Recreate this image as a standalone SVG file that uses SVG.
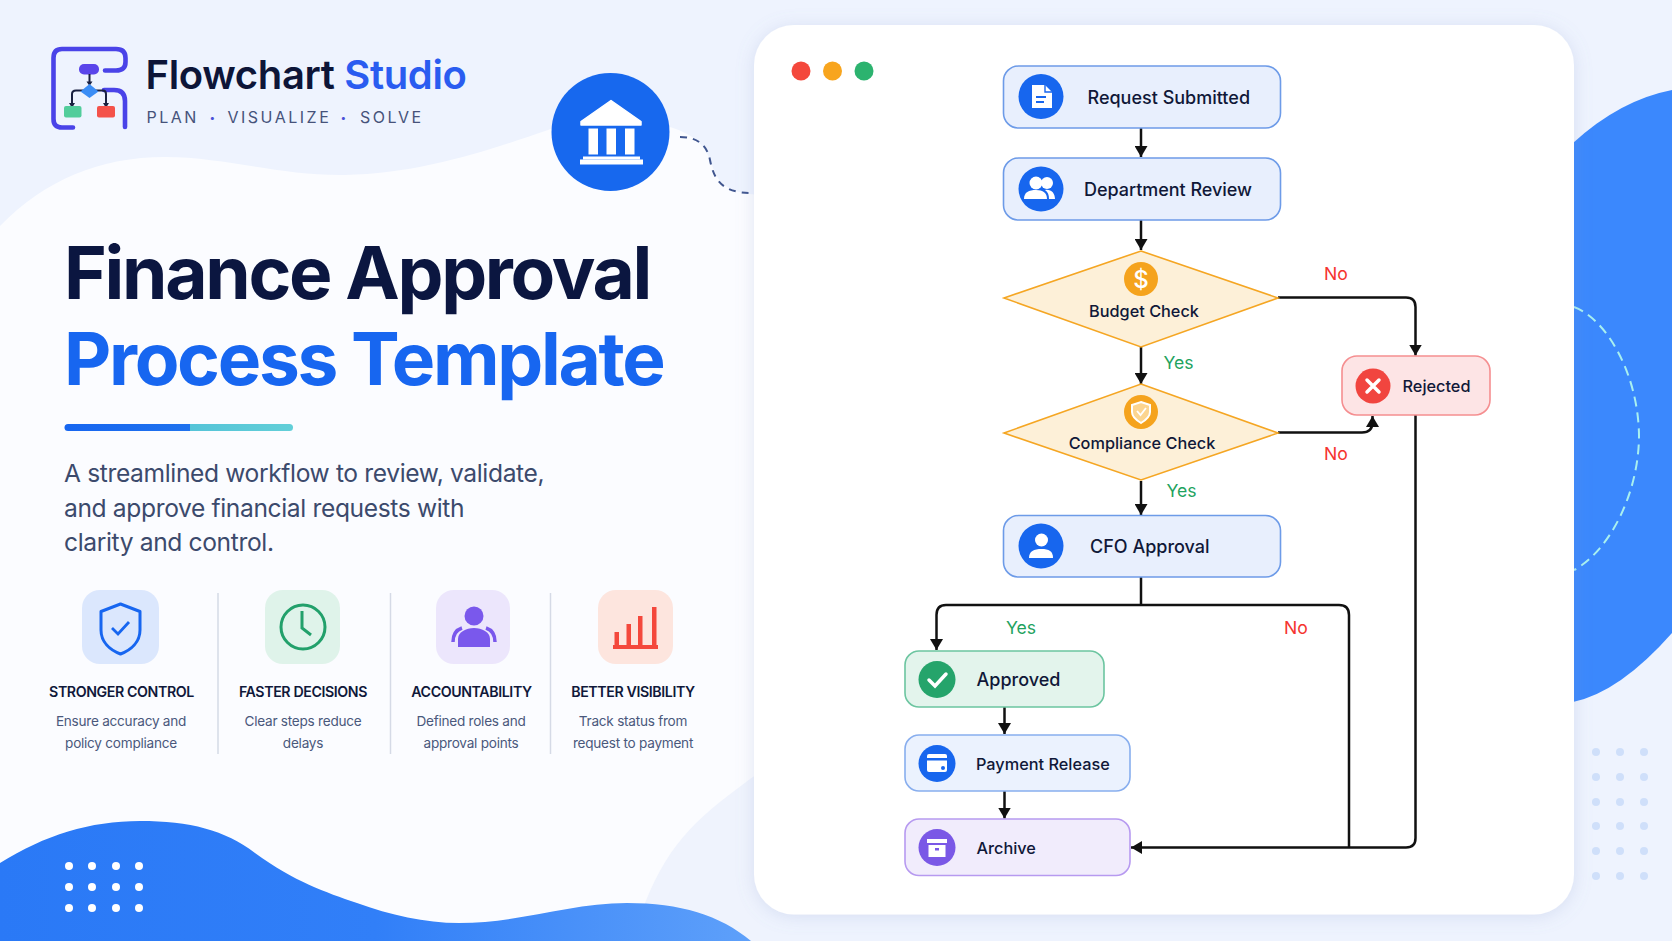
<svg xmlns="http://www.w3.org/2000/svg" width="1672" height="941" viewBox="0 0 1672 941">
<style>
text{font-family:Inter,"Noto Sans","Liberation Sans",sans-serif;fill:#111a3a}
.n{font-size:18px;font-weight:500;fill:#101838}
.d{font-size:16.3px;font-weight:500;fill:#101838}
.yes{font-size:17.6px;fill:#1fa35f}
.no{font-size:17.6px;fill:#f5332e}
.h{font-size:14.2px;font-weight:600;letter-spacing:-.4px;text-anchor:middle;fill:#10183a}
.p{font-size:13.6px;letter-spacing:-.25px;text-anchor:middle;fill:#4a587c}
.sub{font-size:24.6px;letter-spacing:-.37px;fill:#3c4a6c}
.c{fill:none;stroke:#111;stroke-width:2.5}
.blue{fill:#e8effd;stroke:#6d9be8;stroke-width:1.6}
.dia{fill:#fdf0d8;stroke:#f5a623;stroke-width:1.6}
.w{fill:#fff}
.dd{fill:#cfdffa}
.wd{fill:#fff}
</style>
<defs>
<marker id="a" markerWidth="12" markerHeight="13" refX="11" refY="6.500" orient="auto" markerUnits="userSpaceOnUse"><path d="M0 0L11 6.500L0 13Z" fill="#111"/></marker>
<linearGradient id="wave" x1="0" x2="1" y1="0" y2="0"><stop offset="0" stop-color="#2a79f6"/><stop offset=".5" stop-color="#317ff8"/><stop offset="1" stop-color="#5ea0fa"/></linearGradient>
<linearGradient id="bar" x1="0" x2="1" y1="0" y2="0"><stop offset="0" stop-color="#1766f0"/><stop offset=".55" stop-color="#1f72ee"/><stop offset=".55" stop-color="#55c4d8"/><stop offset="1" stop-color="#62cfd8"/></linearGradient>
<filter id="sh" x="-5%" y="-5%" width="110%" height="110%"><feDropShadow dx="0" dy="2" stdDeviation="9" flood-color="#7f93c8" flood-opacity=".22"/></filter>
</defs>

<g id="background">
<rect width="1672" height="941" fill="#eef3fe"/>
<path d="M0 226C45 180 100 157 165 157C225 157 280 176 345 175C420 174 490 150 548 130C590 110 640 115 670 127C695 135 705 145 712 165C718 185 730 193 760 195V941H0Z" fill="#fbfcff"/>
<path d="M645 903C670 840 700 815 760 772V941H645Z" fill="#eff3fd"/>
<path d="M0 863C45 835 90 821 140 821C190 821 225 830 255 853C295 882 325 892 357 903C390 915 425 923 459 923C520 923 570 903 627 903C680 903 720 915 751 941H0Z" fill="url(#wave)"/>
<path d="M1573 143Q1620 100 1672 90V633Q1620 692 1573 702Z" fill="#3b88fd"/>
<g class="wd"><circle cx="69" cy="866" r="4"/><circle cx="92" cy="866" r="4"/><circle cx="116" cy="866" r="4"/><circle cx="139" cy="866" r="4"/><circle cx="69" cy="887" r="4"/><circle cx="92" cy="887" r="4"/><circle cx="116" cy="887" r="4"/><circle cx="139" cy="887" r="4"/><circle cx="69" cy="908" r="4"/><circle cx="92" cy="908" r="4"/><circle cx="116" cy="908" r="4"/><circle cx="139" cy="908" r="4"/></g>
<g class="dd"><circle cx="1596" cy="752" r="4"/><circle cx="1620" cy="752" r="4"/><circle cx="1644" cy="752" r="4"/><circle cx="1596" cy="777" r="4"/><circle cx="1620" cy="777" r="4"/><circle cx="1644" cy="777" r="4"/><circle cx="1596" cy="802" r="4"/><circle cx="1620" cy="802" r="4"/><circle cx="1644" cy="802" r="4"/><circle cx="1596" cy="826" r="4"/><circle cx="1620" cy="826" r="4"/><circle cx="1644" cy="826" r="4"/><circle cx="1596" cy="851" r="4"/><circle cx="1620" cy="851" r="4"/><circle cx="1644" cy="851" r="4"/><circle cx="1596" cy="876" r="4"/><circle cx="1620" cy="876" r="4"/><circle cx="1644" cy="876" r="4"/></g>
<path d="M1574 307C1605 318 1638 372 1639 435C1639 495 1608 552 1574 570" fill="none" stroke="#a9f0ef" stroke-width="2" stroke-dasharray="10 6"/>
<path d="M680 137C702 137 708 150 710 160C714 180 722 193 752 193" fill="none" stroke="#40568f" stroke-width="2" stroke-dasharray="7 6"/>
</g>

<g id="logo">
<path d="M73 127.500H62Q53.500 127.500 53.500 119V58Q53.500 49 62 49H116Q125.500 49 125.500 58V62Q125.500 70.500 116 70.500H105M104 90H114Q125 90 125 101V127" fill="none" stroke="#4a43e8" stroke-width="4.600" stroke-linecap="round"/>
<rect x="79" y="64" width="20" height="10.500" rx="5" fill="#5a45ea"/>
<path d="M89.500 74V84M72 105V94Q72 90.500 76 90.500H103Q106 90.500 106 94V105" fill="none" stroke="#1a2140" stroke-width="2"/>
<path d="M86.500 81.500H92.500L89.500 86ZM69 103H75L72 108ZM103 103H109L106 108Z" fill="#1a2140"/>
<path d="M89.500 84L98.500 91.500L89.500 98L80.500 91.500Z" fill="#3b8df5"/>
<rect x="64" y="106" width="17.500" height="11.500" rx="2" fill="#52cd9b"/>
<rect x="97" y="106" width="18" height="11.500" rx="2" fill="#f4524a"/>
<text x="145.500" y="88.500" font-size="40" font-weight="600" letter-spacing="-.35" style="fill:#0d1538">Flowchart <tspan style="fill:#2a5cf0">Studio</tspan></text>
<text x="146.500" y="122.500" font-size="16" letter-spacing="2.500" style="fill:#46527a">PLAN<tspan x="209.500" font-size="10" dy="-2" style="fill:#4a50d8">•</tspan><tspan x="227.500" dy="2">VISUALIZE</tspan><tspan x="340.500" font-size="10" dy="-2" style="fill:#4a50d8">•</tspan><tspan x="360" dy="2">SOLVE</tspan></text>
</g>

<g id="bank">
<circle cx="610.500" cy="132" r="59" fill="#1768ee"/>
<path class="w" d="M611 100.500L641 121.500V125H581V121.500Z" stroke="#fff" stroke-linejoin="round" stroke-width="1.500"/>
<rect class="w" x="588.500" y="128.500" width="9.500" height="26"/><rect class="w" x="606.500" y="128.500" width="9.500" height="26"/><rect class="w" x="625" y="128.500" width="9.500" height="26"/>
<rect class="w" x="583" y="156.500" width="57" height="3"/><rect class="w" x="580" y="159.500" width="63" height="5"/>
</g>

<g id="headline">
<text x="64" y="299" font-size="73" font-weight="700" letter-spacing="-2.300" style="fill:#0b1640">Finance Approval</text>
<text x="64" y="385" font-size="73" font-weight="700" letter-spacing="-2.300" style="fill:#1766f0">Process Template</text>
<rect x="64.500" y="424" width="228.500" height="7" rx="3.500" fill="url(#bar)"/>
<text class="sub" x="64" y="482">A streamlined workflow to review, validate,</text>
<text class="sub" x="64" y="516.500">and approve financial requests with</text>
<text class="sub" x="64" y="551">clarity and control.</text>
</g>

<g id="feature-control">
<rect x="82" y="590" width="77" height="74" rx="18" fill="#dbe7fd"/>
<path d="M120.500 604L140 611.500V630C140 642 131 650 120.500 654C110 650 101 642 101 630V611.500Z" fill="none" stroke="#1766f0" stroke-width="3" stroke-linejoin="round"/>
<path d="M112 628L118 634L129 622" fill="none" stroke="#1766f0" stroke-width="2.800"/>
<text class="h" x="121.500" y="696.500">STRONGER CONTROL</text>
<text class="p" x="121" y="725.500">Ensure accuracy and</text>
<text class="p" x="121" y="748">policy compliance</text>
</g>
<g id="feature-speed">
<rect x="265" y="590" width="75" height="74" rx="18" fill="#dff3ea"/>
<circle cx="303" cy="627" r="22" fill="none" stroke="#22a06b" stroke-width="3"/>
<path d="M302 611V628L311 635" fill="none" stroke="#22a06b" stroke-width="3"/>
<text class="h" x="303" y="696.500">FASTER DECISIONS</text>
<text class="p" x="303" y="725.500">Clear steps reduce</text>
<text class="p" x="303" y="748">delays</text>
</g>
<g id="feature-account">
<rect x="436" y="590" width="74" height="74" rx="18" fill="#ece6fc"/>
<ellipse cx="474" cy="616" rx="9.500" ry="9.500" fill="#7a58ec"/>
<path d="M458 647V639C458 632 466 628 474 628C482 628 490 632 490 639V647Z" fill="#7a58ec"/>
<path d="M453 642C453 635 456 630 462 628M495 642C495 635 492 630 486 628" fill="none" stroke="#7a58ec" stroke-width="3.500"/>
<text class="h" x="471.500" y="696.500">ACCOUNTABILITY</text>
<text class="p" x="471" y="725.500">Defined roles and</text>
<text class="p" x="471" y="748">approval points</text>
</g>
<g id="feature-visibility">
<rect x="598" y="590" width="75" height="74" rx="18" fill="#fde5de"/>
<g fill="#f4483c"><rect x="614.500" y="632" width="4.500" height="14"/><rect x="626.500" y="624" width="4.500" height="22"/><rect x="638" y="616" width="4.500" height="30"/><rect x="652" y="607" width="4.500" height="39"/><rect x="613" y="645" width="45" height="4"/></g>
<text class="h" x="633" y="696.500">BETTER VISIBILITY</text>
<text class="p" x="633" y="725.500">Track status from</text>
<text class="p" x="633" y="748">request to payment</text>
</g>
<g id="dividers" stroke="#d5dae6" stroke-width="1.500">
<path d="M218 593V754M390.500 593V754M550.500 593V754"/>
</g>

<g id="panel">
<rect x="754" y="25" width="820" height="889.500" rx="40" fill="#fff" filter="url(#sh)"/>
<circle cx="801" cy="71" r="9.500" fill="#f4483c"/><circle cx="832.500" cy="71" r="9.500" fill="#f8a51e"/><circle cx="864" cy="71" r="9.500" fill="#2cb36f"/>
</g>

<g id="connectors">
<path class="c" d="M1141 128V157" marker-end="url(#a)"/>
<path class="c" d="M1141 220V250" marker-end="url(#a)"/>
<path class="c" d="M1141 347V384" marker-end="url(#a)"/>
<path class="c" d="M1141 481V515" marker-end="url(#a)"/>
<path class="c" d="M1278 297.500H1406Q1415.500 297.500 1415.500 307V355.500" marker-end="url(#a)"/>
<path class="c" d="M1278 432.500H1362Q1372.500 432.500 1372.500 422V416" marker-end="url(#a)"/>
<path class="c" d="M1141 577V605"/>
<path class="c" d="M1141 605H946Q936.500 605 936.500 615V650" marker-end="url(#a)"/>
<path class="c" d="M1141 605H1339Q1349 605 1349 615V847.500"/>
<path class="c" d="M1004.500 707V734" marker-end="url(#a)"/>
<path class="c" d="M1004.500 791V818.500" marker-end="url(#a)"/>
<path class="c" d="M1415.500 415V838Q1415.500 847.500 1406 847.500H1131" marker-end="url(#a)"/>
</g>

<g id="labels">
<text class="no" x="1324" y="280">No</text>
<text class="yes" x="1163.500" y="368.500">Yes</text>
<text class="no" x="1324" y="459.500">No</text>
<text class="yes" x="1166.500" y="496.500">Yes</text>
<text class="yes" x="1006" y="634">Yes</text>
<text class="no" x="1284" y="634">No</text>
</g>

<g id="node-request">
<rect class="blue" x="1003.500" y="66" width="277" height="62" rx="15"/>
<circle cx="1041" cy="96.500" r="22.500" fill="#1766ee"/>
<path class="w" d="M1032 85H1045L1052 92V108H1032Z"/>
<path d="M1045 85V92H1052" fill="none" stroke="#1766ee" stroke-width="1.400"/>
<path d="M1036 97H1046M1036 102H1044" stroke="#1766ee" stroke-width="1.800"/>
<text class="n" x="1087.500" y="103.500">Request Submitted</text>
</g>
<g id="node-department">
<rect class="blue" x="1003.500" y="158" width="277" height="62" rx="15"/>
<circle cx="1041" cy="189" r="22.500" fill="#1766ee"/>
<circle class="w" cx="1036" cy="183" r="6.500"/><circle class="w" cx="1047" cy="183" r="6"/>
<path class="w" d="M1024 199C1024 192 1029 190 1036 190C1043 190 1047 193 1047 199Z"/>
<path class="w" d="M1045 190C1051 189 1055 193 1055 199H1049C1049 195 1048 192 1045 190Z"/>
<text class="n" x="1084" y="195.500" textLength="168">Department Review</text>
</g>
<g id="node-budget">
<path class="dia" d="M1141 251L1278 298L1141 347L1004 298Z"/>
<circle cx="1141" cy="279" r="17" fill="#f5a31d"/>
<text x="1141" y="287.500" font-size="24" font-weight="500" text-anchor="middle" style="fill:#fff">$</text>
<text class="d" x="1144" y="316.500" text-anchor="middle">Budget Check</text>
</g>
<g id="node-compliance">
<path class="dia" d="M1141 384L1278 433L1141 480L1004 433Z"/>
<circle cx="1141" cy="412" r="17" fill="#f5a31d"/>
<path d="M1141 402L1150 405V412C1150 417 1146 420 1141 423C1136 420 1132 417 1132 412V405Z" fill="#fcd590" stroke="#fff" stroke-width="2"/>
<path d="M1137 411L1140.500 415L1146 408" fill="none" stroke="#fff" stroke-width="1.800"/>
<text class="d" x="1142" y="449" text-anchor="middle">Compliance Check</text>
</g>
<g id="node-cfo">
<rect class="blue" x="1003.500" y="515.500" width="277" height="61.500" rx="15"/>
<circle cx="1041" cy="546" r="22.500" fill="#1766ee"/>
<circle class="w" cx="1041.500" cy="540" r="6.500"/>
<path class="w" d="M1029 558C1029 551 1034 549 1041.500 549C1049 549 1053 551 1053 558Z"/>
<text class="n" x="1090" y="552.500">CFO Approval</text>
</g>
<g id="node-rejected">
<rect x="1342" y="356" width="148" height="59" rx="15" fill="#fde4e5" stroke="#f58e90" stroke-width="1.600"/>
<circle cx="1373" cy="386" r="17.500" fill="#f1453f"/>
<path d="M1367 380L1379 392M1379 380L1367 392" stroke="#fff" stroke-width="3.500" stroke-linecap="round"/>
<text class="d" x="1402.500" y="391.500">Rejected</text>
</g>
<g id="node-approved">
<rect x="905" y="651" width="199" height="56" rx="14" fill="#e3f4ec" stroke="#6cc5a0" stroke-width="1.600"/>
<circle cx="937" cy="679.500" r="18.500" fill="#25a46b"/>
<path d="M929 680L935 686L946 674" fill="none" stroke="#fff" stroke-width="3.500" stroke-linecap="round"/>
<text class="n" x="976.500" y="686">Approved</text>
</g>
<g id="node-payment">
<rect x="905" y="735" width="225" height="56" rx="14" fill="#ebf2fe" stroke="#88aeee" stroke-width="1.600"/>
<circle cx="937" cy="763.500" r="18.500" fill="#1766ee"/>
<rect class="w" x="927" y="754" width="20" height="18" rx="2"/>
<rect x="927" y="758" width="20" height="2.500" fill="#1766ee"/>
<circle cx="943" cy="768" r="2" fill="#1766ee"/>
<text class="d" x="976" y="770">Payment Release</text>
</g>
<g id="node-archive">
<rect x="905" y="819" width="225" height="56.500" rx="14" fill="#f1ecfc" stroke="#b79af0" stroke-width="1.600"/>
<circle cx="937" cy="847.500" r="18.500" fill="#7a58e6"/>
<rect class="w" x="927" y="839" width="20" height="4"/>
<rect class="w" x="928.500" y="845" width="17" height="12"/>
<rect x="935" y="848" width="4" height="2.500" fill="#7a58e6"/>
<text class="d" x="976.500" y="854">Archive</text>
</g>
</svg>
